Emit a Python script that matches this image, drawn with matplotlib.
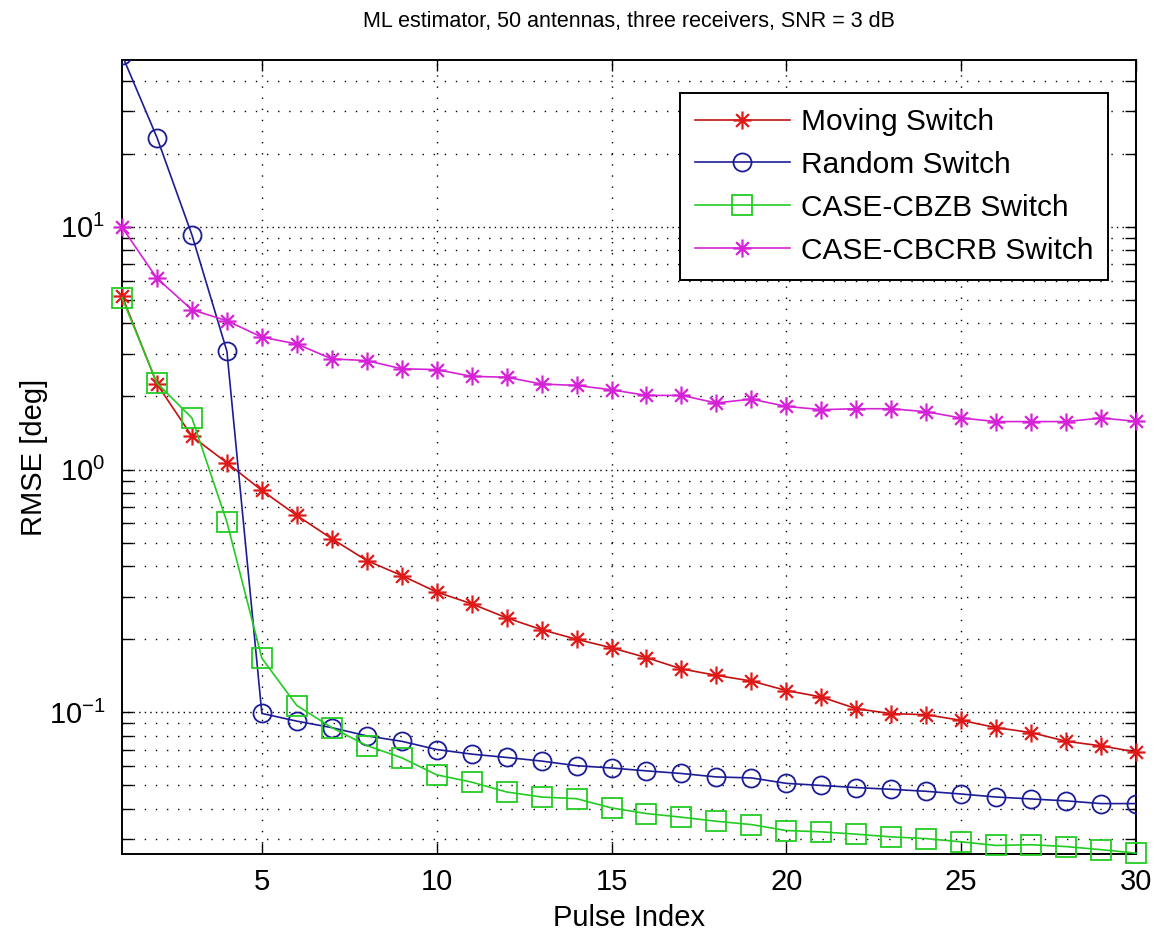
import numpy as np
import matplotlib
matplotlib.use("Agg")
import matplotlib.pyplot as plt
from matplotlib.path import Path
from matplotlib.ticker import LogLocator, NullFormatter

plt.rcParams['font.family'] = ['Liberation Sans', 'DejaVu Sans']
plt.rcParams['mathtext.default'] = 'regular'

# data
pulse = np.arange(1, 31)
moving = [5.2, 2.25, 1.37, 1.066, 0.82, 0.647, 0.519, 0.422, 0.366, 0.313,
          0.28, 0.245, 0.219, 0.20, 0.1845, 0.168, 0.151, 0.142, 0.1346, 0.123,
          0.1157, 0.1035, 0.0988, 0.0978, 0.0927, 0.0865, 0.0826, 0.076, 0.0728, 0.0687]
random_sw = [51.0, 23.3, 9.25, 3.07, 0.099, 0.092, 0.0865, 0.080, 0.076, 0.0703,
             0.0673, 0.0652, 0.063, 0.0603, 0.059, 0.0574, 0.056, 0.0542, 0.0537, 0.051,
             0.050, 0.049, 0.0482, 0.0473, 0.0461, 0.0448, 0.044, 0.0432, 0.0421, 0.0421]
cbzb = [5.1, 2.27, 1.63, 0.608, 0.167, 0.1067, 0.0865, 0.073, 0.065, 0.0553,
        0.0516, 0.047, 0.0448, 0.0441, 0.0404, 0.0383, 0.037, 0.0356, 0.0345, 0.0326,
        0.0322, 0.0315, 0.0307, 0.0302, 0.0293, 0.0283, 0.0285, 0.028, 0.0272, 0.0263]
cbcrb = [9.95, 6.13, 4.55, 4.10, 3.51, 3.29, 2.855, 2.81, 2.60, 2.58,
         2.42, 2.40, 2.25, 2.22, 2.13, 2.02, 2.02, 1.88, 1.95, 1.82,
         1.765, 1.78, 1.78, 1.73, 1.63, 1.576, 1.576, 1.576, 1.63, 1.58]
labels = ['Moving Switch', 'Random Switch', 'CASE-CBZB Switch', 'CASE-CBCRB Switch']
xticks = [5, 10, 15, 20, 25, 30]

# matlab style asterisk marker
s = 0.7071
star = Path([(-1, 0), (1, 0), (0, -1), (0, 1), (-s, -s), (s, s), (-s, s), (s, -s)],
            [Path.MOVETO, Path.LINETO] * 4)

fig = plt.figure(figsize=(11.56, 9.32), dpi=100)
ax = fig.add_axes([0.10554, 0.08369, 0.87716, 0.85193])

ax.plot(pulse, moving, color='#c41010', lw=1.2, marker=star, ms=13, mew=1.6,
        mfc='none', mec='#e01818', label=labels[0], clip_on=False, zorder=3)
ax.plot(pulse, random_sw, color='#1c1c96', lw=1.2, marker='o', ms=13, mew=1.3,
        mfc='none', label=labels[1], zorder=3)
ax.plot(pulse, cbzb, color='#22cc22', lw=1.2, marker='s', ms=14, mew=1.3,
        mfc='none', label=labels[2], clip_on=False, zorder=3)
ax.plot(pulse, cbcrb, color='#d622d6', lw=1.2, marker=star, ms=13, mew=1.6,
        mfc='none', label=labels[3], clip_on=False, zorder=3)

ax.set_yscale('log')
ax.set_xlim(1, 30)
ax.set_ylim(0.0261, 48.6)
ax.set_xticks(xticks)
ax.yaxis.set_minor_locator(LogLocator(base=10, subs=np.arange(2, 10)))
ax.yaxis.set_minor_formatter(NullFormatter())

ax.tick_params(which='both', direction='in', top=True, right=True,
               labelsize=21, width=1.0, color='black')
ax.tick_params(axis='x', which='major', length=8, pad=10)
ax.tick_params(axis='y', which='major', length=8, pad=12)
ax.tick_params(axis='y', which='minor', length=8)
for sp in ax.spines.values():
    sp.set_linewidth(1.4)

dots = (0, (1, 7))
ax.grid(True, axis='x', which='major', color='black', lw=1.0, linestyle=dots)
ax.grid(True, axis='y', which='major', color='black', lw=1.0, linestyle=(0, (1, 3)))
ax.grid(True, axis='y', which='minor', color='black', lw=1.0, linestyle=dots)
ax.set_axisbelow(True)

ax.set_xlabel('Pulse Index', fontsize=21, labelpad=5.5)
ax.set_ylabel('RMSE [deg]', fontsize=21)
ax.yaxis.set_label_coords(-0.073, 0.5)
ax.set_title('ML estimator, 50 antennas, three receivers, SNR = 3 dB', fontsize=15.5, pad=24)

leg = ax.legend(loc='upper right', bbox_to_anchor=(0.9724, 0.9584), borderaxespad=0,
                fontsize=21.5, fancybox=False, framealpha=1, edgecolor='black',
                handlelength=3.2, handletextpad=0.35, labelspacing=0.5, borderpad=0.5)
leg.get_frame().set_linewidth(1.4)

fig.savefig('out.png', dpi=100, facecolor='white')
